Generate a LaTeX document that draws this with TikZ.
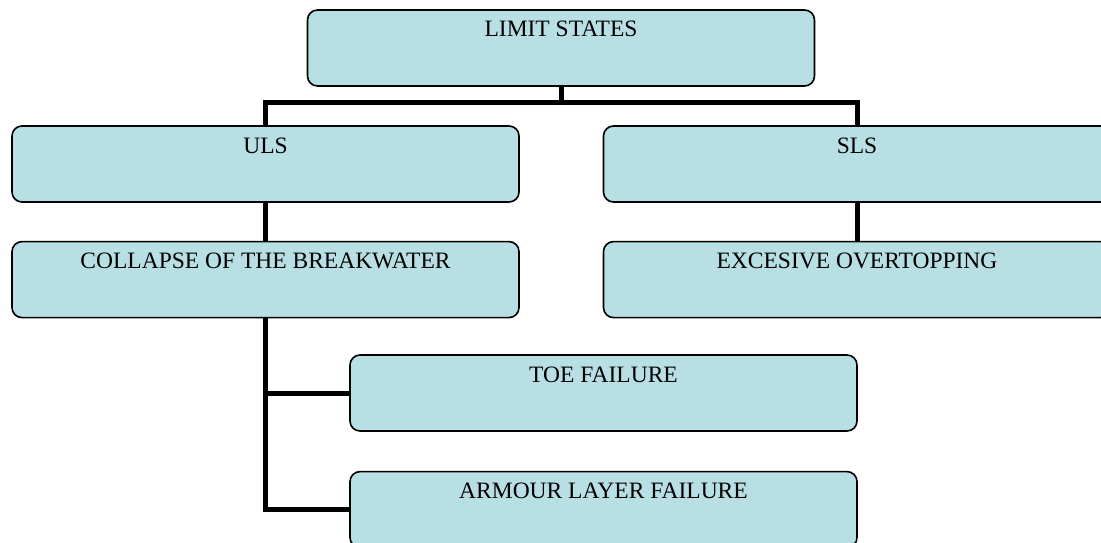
\documentclass[tikz,border=0pt]{standalone}
\usepackage{fontspec}
\setmainfont{Liberation Serif}
\usetikzlibrary{positioning}
\definecolor{boxfill}{RGB}{184,223,227}
\tikzset{
  statebox/.style={draw=black, line width=1.6pt, fill=boxfill, rounded corners=10pt,
    minimum width=507pt, inner sep=0pt, text height=27pt, text depth=49pt,
    font=\fontsize{23.5}{28}\selectfont},
  link/.style={line width=5pt}
}
\begin{document}
\begin{tikzpicture}[x=1pt,y=1pt]
\useasboundingbox (0,0) rectangle (1101,-543);
\node [statebox] (lim) at (561,-48) {LIMIT STATES};
\node [statebox] (uls) at (265.5,-164) {ULS};
\node [statebox] (sls) at (857,-164) {SLS};
\node [statebox, below = 38pt of uls] (col) {COLLAPSE OF THE BREAKWATER};
\node [statebox, below = 38pt of sls] (exc) {EXCESIVE OVERTOPPING};
\node [statebox] (toe) at (603.5,-393) {TOE FAILURE};
\node [statebox, below = 39pt of toe] (arm) {ARMOUR LAYER FAILURE};
\coordinate [below = 16pt of lim] (split);
\draw [link] (lim) -- (split) -| (uls);
\draw [link] (split) -| (sls);
\draw [link] (uls) -- (col);
\draw [link] (sls) -- (exc);
\draw [link] (col.south) |- (toe);
\draw [link] (col.south) |- (arm);
\end{tikzpicture}
\end{document}
